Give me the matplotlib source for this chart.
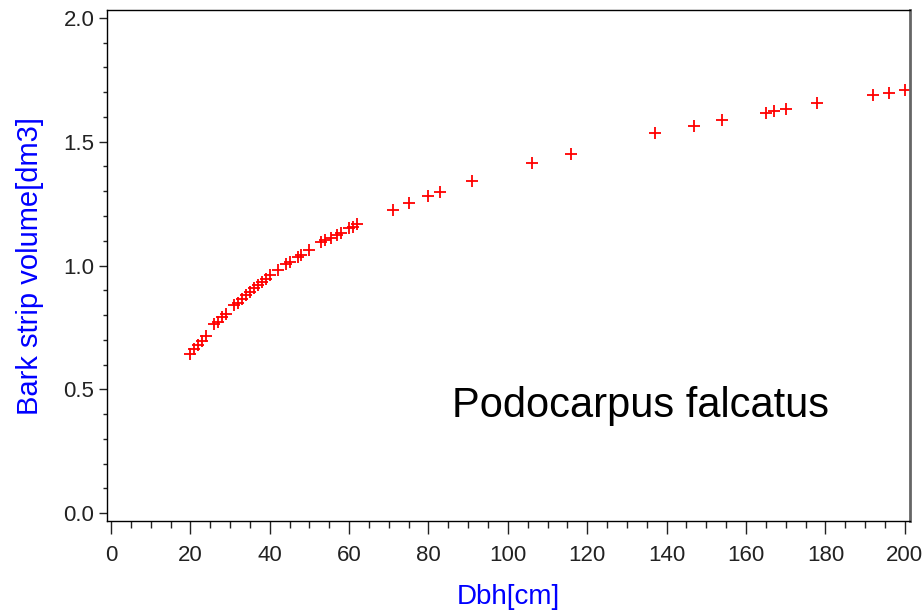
import numpy as np
import matplotlib.pyplot as plt
from matplotlib.ticker import MultipleLocator

# diameter at breast height [cm] and bark strip volume [dm3]
dbh = [20, 21, 22, 23, 24, 26, 27, 28, 29, 31, 32, 33, 34, 35, 36, 37, 38, 39,
       40, 42, 44, 45, 47, 48, 50, 53, 54, 55.5, 57, 58, 60, 61, 62,
       71, 75, 80, 83, 91, 106, 116, 137, 147, 154, 165, 167, 170, 178,
       192, 196, 200]
volume = [0.641, 0.661, 0.679, 0.696, 0.715, 0.762, 0.773, 0.791, 0.804,
          0.840, 0.850, 0.865, 0.880, 0.895, 0.908, 0.921, 0.933, 0.944,
          0.962, 0.982, 1.005, 1.015, 1.033, 1.044, 1.063, 1.093, 1.103,
          1.112, 1.123, 1.130, 1.150, 1.157, 1.166,
          1.224, 1.251, 1.282, 1.297, 1.341, 1.413, 1.452, 1.535, 1.564,
          1.588, 1.615, 1.624, 1.631, 1.655, 1.690, 1.698, 1.708]

plt.rcParams['font.family'] = ['Liberation Sans', 'DejaVu Sans']

fig = plt.figure(figsize=(9.24, 6.13), dpi=100)
ax = fig.add_axes([0.1158, 0.150, 0.8690, 0.8337])

ax.plot(dbh, volume, '+', color='red', markersize=8, markeredgewidth=1.3)

ax.set_xlim(-1, 201.3)
ax.set_ylim(-0.032, 2.032)
ax.xaxis.set_major_locator(MultipleLocator(20))
ax.xaxis.set_minor_locator(MultipleLocator(5))
ax.yaxis.set_major_locator(MultipleLocator(0.5))
ax.yaxis.set_minor_locator(MultipleLocator(0.1))
ax.yaxis.set_major_formatter(plt.FormatStrFormatter('%.1f'))

ax.tick_params(axis='x', which='major', length=9, width=1, labelsize=16, colors='#222222', pad=8)
ax.tick_params(axis='x', which='minor', length=5, width=1, colors='#222222')
ax.tick_params(axis='y', which='major', length=6, width=1, labelsize=16, colors='#222222', pad=3)
ax.tick_params(axis='y', which='minor', length=3, width=1, colors='#222222')

for s in ['left', 'bottom', 'top']:
    ax.spines[s].set_color('black')
    ax.spines[s].set_linewidth(1)
ax.spines['right'].set_color('#666666')
ax.spines['right'].set_linewidth(2)

ax.set_xlabel('Dbh[cm]', color='blue', fontsize=20, labelpad=13)
ax.set_ylabel('Bark strip volume[dm3]', color='blue', fontsize=21, labelpad=14)

ax.text(0.4296, 0.2035, 'Podocarpus falcatus', transform=ax.transAxes,
        fontsize=30, color='black', va='baseline', ha='left')

fig.savefig('out.png', dpi=100)
